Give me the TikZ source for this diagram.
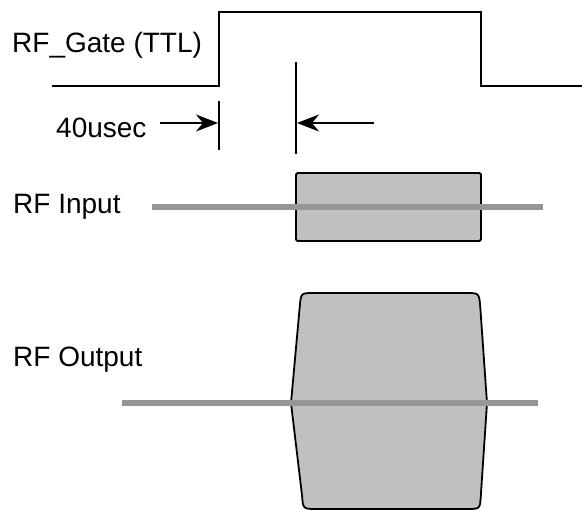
\documentclass[tikz,border=0pt]{standalone}
\usepackage{fontspec}
\setmainfont{Liberation Sans}
\usetikzlibrary{arrows.meta}
\definecolor{pulsefill}{RGB}{192,192,192}
\definecolor{carrier}{RGB}{150,150,150}
\begin{document}
\begin{tikzpicture}[x=1pt,y=-1pt,
  lbl/.style={anchor=base west,inner sep=0pt,font=\fontsize{28}{32}\selectfont},
  wave/.style={line width=1.9pt,line join=miter},
  tick/.style={line width=1.7pt},
  dimarrow/.style={line width=1.4pt,-{Stealth[length=22pt,width=17pt,inset=7pt]}},
  carrierline/.style={line width=6.5pt,draw=carrier},
  pulse/.style={fill=pulsefill,draw=black,line width=1.8pt,line join=round}]
\useasboundingbox (0,0) rectangle (582,510);

% labels
\node[lbl] (gate) at (12,53) {RF\_Gate (TTL)};
\node[lbl] (dt) at (56,138) {40usec};
\node[lbl] (in) at (13,214) {RF Input};
\node[lbl] (out) at (13,367) {RF Output};

% gate waveform
\coordinate (g0) at (52,86);
\coordinate (g1) at (219,86);
\coordinate (g2) at (219,12);
\coordinate (g3) at (481,12);
\coordinate (g4) at (481,86);
\coordinate (g5) at (582,86);
\draw[wave] (g0) -- (g1) -- (g2) -- (g3) -- (g4) -- (g5);

% timing markers
\coordinate (t1a) at (219,101);
\coordinate (t1b) at (219,150);
\coordinate (t2a) at (296,62);
\coordinate (t2b) at (296,154);
\draw[tick] (t1a) -- (t1b);
\draw[tick] (t2a) -- (t2b);
\coordinate (a1s) at (160,123);
\coordinate (a1e) at (218,123);
\coordinate (a2s) at (374,123);
\coordinate (a2e) at (297,123);
\draw[dimarrow] (a1s) -- (a1e);
\draw[dimarrow] (a2s) -- (a2e);

% RF input
\draw[pulse,rounded corners=1.5pt] (296,173) rectangle (481,241);
\coordinate (i0) at (152,207);
\coordinate (i1) at (543,207);
\draw[carrierline] (i0) -- (i1);

% RF output
\draw[pulse] (291,403) -- (299.8,306) .. controls (301,293) .. (314,293)
  -- (466,293) .. controls (479,293) .. (480.2,306)
  -- (487,403)
  -- (480.8,496) .. controls (480,509) .. (467,509)
  -- (317,509) .. controls (303,509) .. (302.1,496) -- cycle;
\coordinate (o0) at (122,403);
\coordinate (o1) at (538,403);
\draw[carrierline] (o0) -- (o1);
\end{tikzpicture}
\end{document}
